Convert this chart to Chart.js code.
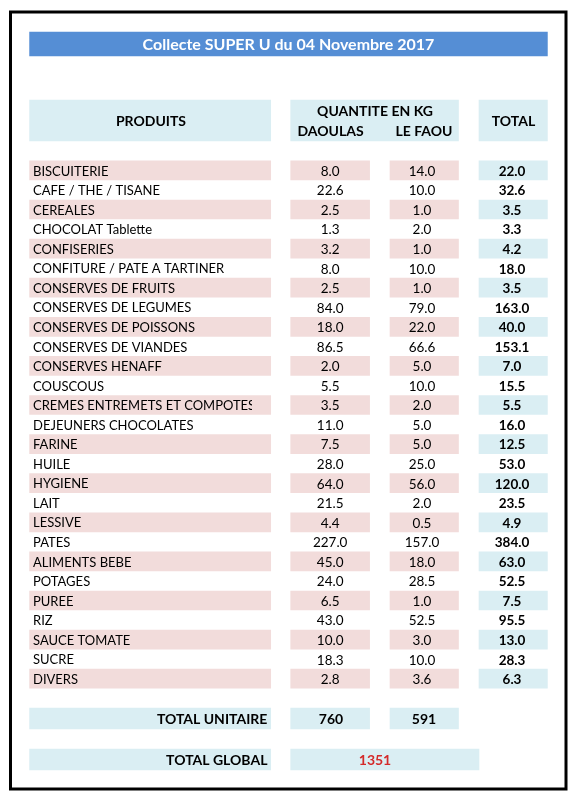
<!DOCTYPE html>
<html>
<head>
<meta charset="utf-8">
<script src="https://cdn.jsdelivr.net/npm/chart.js@4"></script>
<style>
  body { margin: 0; background: #fff; }
  #wrap { width: 579px; height: 800px; position: relative; }
</style>
</head>
<body>
<div id="wrap"><canvas id="table_chart"></canvas></div>
<script>
// ---- data read from the sheet ----
var titleText = "Collecte SUPER U du 04 Novembre 2017";
var produits = [
  "BISCUITERIE", "CAFE / THE / TISANE", "CEREALES", "CHOCOLAT Tablette", "CONFISERIES",
  "CONFITURE / PATE A TARTINER", "CONSERVES DE FRUITS", "CONSERVES DE LEGUMES",
  "CONSERVES DE POISSONS", "CONSERVES DE VIANDES", "CONSERVES HENAFF", "COUSCOUS",
  "CREMES ENTREMETS ET COMPOTES", "DEJEUNERS CHOCOLATES", "FARINE", "HUILE", "HYGIENE",
  "LAIT", "LESSIVE", "PATES", "ALIMENTS BEBE", "POTAGES", "PUREE", "RIZ",
  "SAUCE TOMATE", "SUCRE", "DIVERS"
];
var daoulas = [8.0, 22.6, 2.5, 1.3, 3.2, 8.0, 2.5, 84.0, 18.0, 86.5, 2.0, 5.5, 3.5, 11.0,
  7.5, 28.0, 64.0, 21.5, 4.4, 227.0, 45.0, 24.0, 6.5, 43.0, 10.0, 18.3, 2.8];
var leFaou = [14.0, 10.0, 1.0, 2.0, 1.0, 10.0, 1.0, 79.0, 22.0, 66.6, 5.0, 10.0, 2.0, 5.0,
  5.0, 25.0, 56.0, 2.0, 0.5, 157.0, 18.0, 28.5, 1.0, 52.5, 3.0, 10.0, 3.6];
var totals = [22.0, 32.6, 3.5, 3.3, 4.2, 18.0, 3.5, 163.0, 40.0, 153.1, 7.0, 15.5, 5.5, 16.0,
  12.5, 53.0, 120.0, 23.5, 4.9, 384.0, 63.0, 52.5, 7.5, 95.5, 13.0, 28.3, 6.3];
var totalUnitaire = [760, 591];
var totalGlobal = 1351;

// ---- layout (x in page px, y in row units) ----
var colProduit = [29.6, 270.7];
var colDaoulas = [290.7, 369.6];
var colLeFaou = [390, 458.5];
var colTotal = [479, 547.4];
var rowPitch = 19.55;
var firstRowY = 170.4;
function rowAt(px) { return (px - firstRowY) / rowPitch; }
var titleRow = rowAt(44);
var headerRow = rowAt(120.5);
var unitRow = rowAt(718.5);
var globalRow = rowAt(759.5);

var PINK = "#F2DCDB";
var BLUE = "#DAEEF3";
var FONT = "Lato, 'Open Sans', sans-serif";

var pinkCells = [];
var blueCells = [];
produits.forEach(function(p, i) {
  if (i % 2 === 0) {
    pinkCells.push({y: i, x: colProduit});
    pinkCells.push({y: i, x: colDaoulas});
    pinkCells.push({y: i, x: colLeFaou});
    blueCells.push({y: i, x: colTotal});
  }
});

function cellSet(data, color, thickness) {
  return {
    data: data,
    backgroundColor: color,
    borderWidth: 0,
    barThickness: thickness,
    grouped: false
  };
}

var tableText = {
  id: "tableText",
  beforeDraw: function(chart) {
    var ctx = chart.ctx;
    ctx.save();
    ctx.fillStyle = "#fff";
    ctx.fillRect(0, 0, chart.width, chart.height);
    ctx.restore();
  },
  afterDatasetsDraw: function(chart) {
    var ctx = chart.ctx;
    var xs = chart.scales.x;
    var ys = chart.scales.y;
    function text(str, xv, row, align, weight, size, color) {
      ctx.font = weight + " " + size + "px " + FONT;
      ctx.fillStyle = color || "#000";
      ctx.textAlign = align;
      ctx.textBaseline = "middle";
      ctx.fillText(str, xs.getPixelForValue(xv), ys.getPixelForValue(row) + 1);
    }
    function mid(col) { return (col[0] + col[1]) / 2; }
    ctx.save();

    // frame
    ctx.strokeStyle = "#000";
    ctx.lineWidth = 3;
    var fx0 = xs.getPixelForValue(10.5), fx1 = xs.getPixelForValue(566);
    var fy0 = ys.getPixelForValue(rowAt(12)), fy1 = ys.getPixelForValue(rowAt(789));
    ctx.strokeRect(fx0, fy0, fx1 - fx0, fy1 - fy0);

    text(titleText, (colProduit[0] + colTotal[1]) / 2, titleRow, "center", "bold", 16, "#fff");

    text("PRODUITS", 151, headerRow, "center", "bold", 14);
    text("QUANTITE EN KG", 375, headerRow - 0.5, "center", "bold", 14);
    text("DAOULAS", 330.5, headerRow + 0.52, "center", "bold", 14);
    text("LE FAOU", 424, headerRow + 0.52, "center", "bold", 14);
    text("TOTAL", 513.5, headerRow, "center", "bold", 14);

    produits.forEach(function(p, i) {
      ctx.save();
      ctx.beginPath();
      ctx.rect(0, 0, xs.getPixelForValue(252), chart.height);
      ctx.clip();
      text(p, 33, i, "left", "normal", 13);
      ctx.restore();
      text(daoulas[i].toFixed(1), mid(colDaoulas), i, "center", "normal", 13.5);
      text(leFaou[i].toFixed(1), 422, i, "center", "normal", 13.5);
      text(totals[i].toFixed(1), 512, i, "center", "bold", 13.5);
    });

    text("TOTAL UNITAIRE", 267.4, unitRow, "right", "bold", 14);
    text(String(totalUnitaire[0]), 331, unitRow, "center", "bold", 14);
    text(String(totalUnitaire[1]), 424, unitRow, "center", "bold", 14);
    text("TOTAL GLOBAL", 267.4, globalRow, "right", "bold", 14);
    text(String(totalGlobal), 375, globalRow, "center", "bold", 14, "#D42A2A");
    ctx.restore();
  }
};

new Chart(document.getElementById("table_chart"), {
  type: "bar",
  data: {
    datasets: [
      cellSet([{y: titleRow, x: [colProduit[0], colTotal[1]]}], "#558ED5", 24),
      cellSet([
        {y: headerRow, x: colProduit},
        {y: headerRow, x: [colDaoulas[0], colLeFaou[1]]},
        {y: headerRow, x: colTotal}
      ], BLUE, 41),
      cellSet(pinkCells, PINK, 19),
      cellSet(blueCells, BLUE, 19),
      cellSet([
        {y: unitRow, x: colProduit},
        {y: unitRow, x: colDaoulas},
        {y: unitRow, x: colLeFaou}
      ], BLUE, 21),
      cellSet([
        {y: globalRow, x: colProduit},
        {y: globalRow, x: [colDaoulas[0], colTotal[0]]}
      ], BLUE, 21)
    ]
  },
  options: {
    indexAxis: "y",
    responsive: true,
    maintainAspectRatio: false,
    animation: false,
    layout: { padding: 0 },
    plugins: { legend: { display: false }, tooltip: { enabled: false } },
    scales: {
      x: { type: "linear", min: 0, max: 579, offset: false, display: false },
      y: { type: "linear", min: rowAt(0), max: rowAt(800), offset: false, reverse: true, display: false }
    }
  },
  plugins: [tableText]
});
</script>
</body>
</html>
